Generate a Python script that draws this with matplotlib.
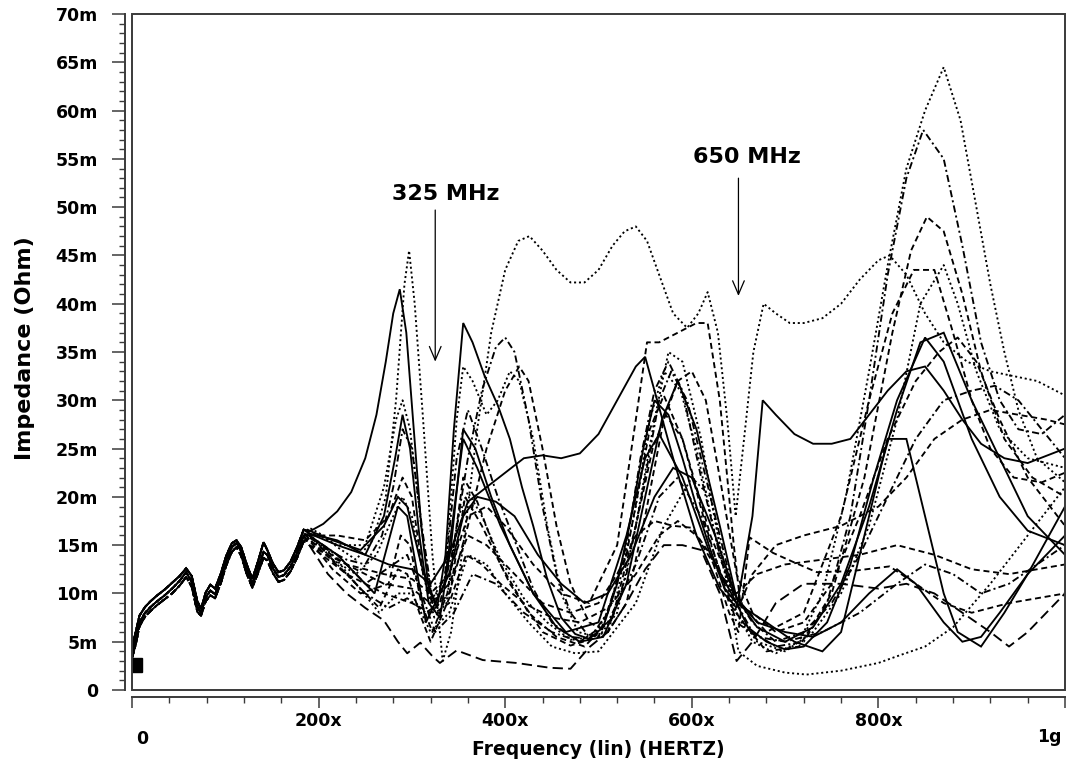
import matplotlib
matplotlib.use("Agg")
import matplotlib.pyplot as plt
from matplotlib.patches import Rectangle
from matplotlib.ticker import MultipleLocator

plt.rcParams['font.family'] = ['DejaVu Sans']

# ---------------------------------------------------------------------------
# Data: frequency in MHz, impedance in mOhm
# ---------------------------------------------------------------------------
# low-frequency section (common to all corners, three slightly different runs)
lf_freq = [0, 4, 8, 14, 20, 27, 35, 43, 51, 58, 64, 70, 74, 79, 84, 89, 95, 101,
           107, 112, 117, 123, 129, 135, 141, 145, 151, 157, 163, 170, 177, 184]
lf_a = [3.8, 5.2, 7.0, 8.0, 8.6, 9.2, 9.8, 10.5, 11.3, 12.2, 11.2, 8.6, 8.0, 9.6, 10.3,
        9.9, 11.5, 13.4, 14.8, 15.2, 14.4, 12.5, 11.0, 12.6, 14.3, 14.0, 12.6, 11.7, 11.9,
        12.8, 14.2, 16.0]
lf_b = [4.4, 6.0, 7.7, 8.6, 9.2, 9.8, 10.4, 11.1, 11.8, 12.6, 11.8, 9.2, 8.4, 10.1, 10.9,
        10.5, 12.0, 13.9, 15.2, 15.5, 14.8, 13.0, 11.5, 13.3, 15.3, 14.5, 13.1, 12.2, 12.4,
        13.3, 14.8, 16.6]
lf_c = [3.3, 4.7, 6.6, 7.6, 8.2, 8.8, 9.4, 10.0, 10.8, 11.7, 10.7, 8.1, 7.7, 9.2, 9.8,
        9.5, 11.0, 12.9, 14.3, 14.8, 13.9, 12.0, 10.6, 12.1, 13.7, 13.4, 12.1, 11.2, 11.4,
        12.3, 13.7, 15.4]

# high-frequency section of each corner
c01_f = [190, 205, 220, 240, 258, 272, 283, 292, 297, 303, 312, 322, 333, 342, 355, 370, 385,
         400, 414, 426, 440, 455, 470, 485, 500, 515, 528, 540, 552, 565, 580, 595, 607, 617,
         628, 638, 647, 656, 666, 677, 690, 705, 720, 740, 760, 780, 800, 812, 830, 850, 870,
         895, 920, 945, 970, 1000]
c01_z = [16.8, 16.0, 14.8, 13.5, 15.5, 20, 30, 42, 45.5, 40, 28, 14, 3, 6, 15, 27, 37, 43.5,
         46.5, 47, 45.5, 43.5, 42.2, 42.2, 43.5, 46, 47.5, 48, 46.5, 43, 39, 37.5, 39, 41.2,
         37, 28, 18, 26, 35, 40, 39, 38, 38, 38.5, 40, 42.5, 44.5, 45, 43, 39, 36, 34, 33,
         32.5, 32, 30.5]

c02_f = [190, 205, 220, 235, 250, 262, 272, 280, 287, 294, 302, 310, 318, 327, 336, 345, 355,
         365, 378, 392, 405, 418, 430, 445, 460, 475, 490, 505, 520, 535, 548, 560, 575, 590,
         605, 620, 635, 648, 660, 680, 700, 720, 745, 770, 795, 820, 850, 870, 900, 930, 960,
         1000]
c02_z = [16.4, 17.2, 18.5, 20.5, 24, 28.5, 34, 39, 41.5, 37, 27, 17, 10.5, 8.5, 14, 27, 38,
         36, 32.5, 29.5, 26, 21, 17, 11.5, 7.5, 5.8, 5.3, 6.5, 11, 18, 25, 30, 28.5, 24, 19,
         14.5, 10.5, 9, 6.5, 5, 4.2, 4.5, 7, 13, 22, 30, 36.5, 34, 26, 20, 16.5, 15]

c03_f = [190, 210, 230, 250, 268, 280, 290, 300, 312, 322, 335, 348, 360, 375, 392, 410, 430,
         450, 470, 490, 510, 530, 545, 560, 575, 590, 610, 630, 648, 665, 690, 720, 745, 770,
         790, 810, 830, 848, 870, 890, 910, 930, 950, 975, 1000]
c03_z = [15.8, 14.5, 13.5, 13, 16, 21, 27, 25, 16, 9.5, 11.5, 24, 29, 25, 20, 15.5, 10.5, 7,
         5.5, 5.3, 8, 15, 24, 31, 34, 31, 22, 14, 9, 6, 4.5, 5, 9, 18, 30, 43, 53, 58, 55, 46,
         36, 30, 27, 26.5, 28.5]

c04_f = [190, 215, 240, 262, 280, 290, 300, 312, 324, 337, 350, 360, 375, 395, 420, 445, 470,
         495, 520, 540, 555, 570, 588, 605, 625, 645, 665, 690, 715, 740, 765, 790, 810, 830,
         850, 870, 888, 905, 920, 935, 950, 970, 1000]
c04_z = [16.2, 13.5, 12, 14, 18, 20, 18, 12, 7.5, 9, 18, 20.5, 18, 13.5, 9.5, 7, 5.2, 5.5, 10,
         19, 28, 33, 31, 25, 16, 8.5, 5, 3.8, 5, 10, 20, 33, 44, 54, 60, 64.5, 59, 50, 42, 35,
         29, 24, 21.5]

c05_f = [190, 215, 245, 275, 288, 298, 310, 322, 338, 355, 370, 395, 425, 455, 485, 515, 540,
         558, 572, 590, 615, 640, 655, 680, 715, 750, 785, 815, 835, 852, 870, 890, 910, 935,
         965, 1000]
c05_z = [15.5, 12.5, 10, 11, 16, 15, 9, 6, 10, 22, 19.5, 13, 8, 5.5, 4.5, 7.5, 17, 25, 28.5,
         26, 17, 9, 7, 4, 4.5, 10, 22, 37, 45.5, 49, 47.5, 41, 33, 26, 22, 20]

c06_f = [190, 230, 265, 285, 295, 308, 320, 340, 357, 375, 405, 440, 470, 500, 530, 555, 570,
         590, 620, 648, 680, 720, 760, 790, 815, 838, 860, 880, 900, 920, 945, 975, 1000]
c06_z = [15.6, 12, 8.5, 12.5, 12, 8, 5, 9.5, 20, 17, 11, 6, 4.6, 5.5, 14, 27, 30.5, 26, 16,
         9.5, 6, 8, 18, 30, 39, 43.5, 43.5, 37, 30, 25, 22, 21.5, 22.5]

c07_f = [190, 220, 260, 285, 295, 315, 335, 355, 370, 395, 430, 465, 500, 530, 550, 565, 590,
         620, 648, 680, 710, 740, 760, 790, 810, 830, 850, 870, 885, 910, 935, 960, 1000]
c07_z = [16, 14, 10, 19, 18, 7, 11, 26, 23, 17, 10, 6, 7, 16, 24, 26.5, 22, 14, 9, 7, 5, 4, 6,
         18, 26, 26, 18, 10, 6, 4.5, 8, 12, 19]

c08_f = [190, 220, 250, 275, 300, 320, 340, 360, 380, 400, 420, 440, 460, 480, 500, 520, 540,
         550, 560, 580, 605, 630, 648, 665, 676, 690, 710, 730, 750, 770, 790, 810, 830, 850,
         870, 890, 910, 935, 960, 1000]
c08_z = [16.2, 15.5, 14, 13, 12.5, 11, 14, 19.5, 21, 22.5, 24, 24.3, 24, 24.5, 26.5, 30, 33.5,
         34.5, 31, 24, 16, 10.5, 8.5, 18, 30, 28.5, 26.5, 25.5, 25.5, 26, 28.5, 31, 33, 33.5,
         31, 28, 25.5, 24, 23.5, 25]

c09_f = [190, 220, 250, 275, 295, 315, 330, 345, 360, 375, 390, 400, 410, 425, 440, 455, 470,
         490, 510, 530, 550, 565, 578, 595, 620, 645, 665, 690, 720, 750, 780, 810, 840, 870,
         900, 925, 950, 975, 1000]
c09_z = [16, 13, 10, 8.5, 9.5, 8, 9, 15, 24, 31, 35.5, 36.5, 35, 28, 19, 12, 8, 5.5, 6, 12,
         22, 30, 33, 30, 20, 10, 7, 5, 6, 9, 14, 20, 26, 30, 31, 31.5, 30, 27, 24]

c10_f = [190, 230, 270, 300, 320, 340, 360, 380, 400, 415, 425, 440, 455, 470, 490, 510, 530,
         550, 570, 585, 600, 615, 630, 648, 665, 690, 720, 750, 780, 810, 840, 865, 885, 905,
         930, 960, 1000]
c10_z = [15, 12, 10, 9, 8, 10, 17, 25, 31, 33.5, 32, 25, 17, 11, 7, 6, 9, 18, 28, 32, 33, 30,
         22, 12, 8, 6, 7, 11, 18, 26, 32, 35, 36.5, 34, 28, 22, 17]

c11_f = [190, 220, 250, 270, 283, 290, 298, 310, 322, 335, 348, 355, 365, 380, 392, 405, 415,
         430, 445, 460, 478, 500, 520, 540, 560, 575, 590, 610, 630, 648, 670, 700, 730, 760,
         790, 820, 845, 870, 885, 905, 930, 960, 1000]
c11_z = [16.5, 15, 15, 21, 28, 30, 27, 17, 9, 11, 28, 33.5, 32, 28.5, 30, 33, 32, 26, 17, 10,
         6, 5.5, 8, 17, 28, 35, 34, 26, 15, 8, 5, 4, 6, 10, 17, 28, 40, 44, 40, 33, 27, 24, 23]

c12_f = [190, 210, 230, 250, 270, 285, 295, 309, 322, 330, 348, 376, 412, 448, 470, 491, 510,
         530, 550, 570, 590, 610, 630, 648, 665, 690, 720, 760, 800, 830, 860, 890, 920, 940,
         960, 1000]
c12_z = [15, 12, 10, 8.5, 7.2, 5, 3.8, 4.9, 3.5, 2.8, 4.1, 3.1, 2.8, 2.3, 2.2, 4.5, 6, 9, 12.5,
         15, 15, 14.5, 10, 3, 5, 9, 11, 11, 10.5, 11, 10, 8, 6, 4.5, 6, 10]

c13_f = [190, 215, 240, 265, 285, 300, 320, 340, 360, 380, 400, 425, 450, 475, 500, 540, 570,
         600, 620, 640, 650, 670, 700, 723, 760, 800, 823, 850, 880, 920, 960, 1000]
c13_z = [16, 14, 11, 8, 10, 10, 6, 8, 14, 13, 10, 7, 4.5, 3.8, 4, 9, 17, 22, 20, 10, 4, 2.5,
         1.8, 1.6, 2, 2.8, 3.6, 4.5, 6.5, 11, 16, 21]

c14_f = [190, 230, 270, 300, 320, 340, 360, 380, 410, 440, 470, 500, 520, 540, 560, 580, 600,
         620, 640, 650, 662, 687, 710, 734, 770, 812, 840, 870, 900, 940, 1000]
c14_z = [15.5, 13, 11, 10.5, 9, 11, 16, 15, 12, 9, 8, 9, 12, 16, 17.5, 17, 16.8, 14, 8, 6,
         15.8, 14.2, 13.2, 12.2, 12.3, 12.8, 11, 9, 8, 9, 10]

c15_f = [190, 220, 250, 280, 295, 310, 325, 345, 365, 390, 420, 450, 480, 510, 540, 565, 585,
         610, 635, 648, 670, 700, 740, 780, 820, 850, 880, 910, 940, 970, 1000]
c15_z = [16, 14, 11, 13, 14, 10, 6, 8, 12, 11, 8, 6, 5, 7, 13, 20, 22, 18, 11, 7, 5.5, 5, 6, 8,
         11, 13, 12, 10, 11, 13, 15]

c16_f = [190, 230, 270, 300, 320, 340, 360, 380, 400, 430, 460, 490, 520, 540, 552, 565, 585,
         605, 617, 630, 645, 652, 665, 690, 720, 760, 800, 830, 860, 890, 920, 950, 980, 1000]
c16_z = [15, 13, 12, 11.5, 10, 12, 18, 19, 17, 13, 10, 9, 15, 28, 36, 36, 37, 38, 38, 30, 15,
         9, 12, 15, 16, 17, 19, 22, 26, 28, 29, 28.5, 28, 27.5]

c17_f = [190, 215, 245, 270, 285, 295, 310, 325, 340, 355, 370, 390, 410, 435, 460, 485, 510,
         535, 560, 580, 600, 625, 648, 670, 700, 730, 760, 790, 820, 840, 870, 890, 910, 930,
         960, 1000]
c17_z = [16.5, 15.5, 14.5, 17, 20, 19, 13, 9, 12, 18, 20, 19.5, 18, 14, 11, 9, 10, 14, 20, 23,
         22, 16, 9.5, 7, 6, 5.5, 7, 10, 12.5, 11, 7, 5, 5.5, 8, 12, 16]

c18_f = [190, 220, 250, 275, 290, 300, 312, 325, 340, 358, 375, 395, 420, 450, 480, 510, 540,
         565, 585, 605, 630, 648, 670, 700, 740, 780, 820, 860, 900, 940, 1000]
c18_z = [16, 16, 15.5, 18, 22, 20, 12, 8, 9, 14, 13, 11, 9, 7.5, 7, 8.5, 12, 16, 17.5, 16, 12,
         10, 12, 13, 13.5, 14, 15, 14, 12.5, 12, 13]

c19_f = [190, 220, 250, 270, 282, 290, 298, 308, 318, 330, 342, 355, 368, 385, 405, 430, 455,
         480, 505, 530, 550, 568, 585, 605, 630, 648, 670, 700, 730, 760, 790, 820, 845, 870,
         900, 930, 960, 1000]
c19_z = [16.2, 15, 14, 18, 24, 28.5, 25, 16, 9, 7.5, 15, 27, 25, 20, 15, 10, 6.5, 5, 5.5, 11,
         20, 28, 32, 27, 17, 9.5, 6.5, 5, 6.5, 11, 19, 29, 36, 37, 30, 24, 18, 14]

# start-point marker of the first trace
marker_freq = [3]
marker_z = [2.6]

# axis tick labels
x_ticks = [0, 200, 400, 600, 800, 1000]
x_tick_labels = ['0', '200x', '400x', '600x', '800x', '1g']
y_ticks = list(range(0, 75, 5))
y_tick_labels = ['0'] + ['%dm' % v for v in y_ticks[1:]]

# ---------------------------------------------------------------------------
# Line styles (dash patterns in points)
# ---------------------------------------------------------------------------
DOT = (0, (1.1, 1.5))
DASH = (0, (3.2, 2.0))
LDASH = (0, (5.5, 2.8))
DDOT = (0, (3.8, 1.7, 1.1, 1.7))
SOLID = '-'

traces = [
    (lf_a, c01_f, c01_z, DOT),
    (lf_b, c02_f, c02_z, SOLID),
    (lf_c, c03_f, c03_z, DDOT),
    (lf_a, c04_f, c04_z, DOT),
    (lf_b, c05_f, c05_z, DASH),
    (lf_c, c06_f, c06_z, DASH),
    (lf_a, c07_f, c07_z, SOLID),
    (lf_b, c08_f, c08_z, SOLID),
    (lf_c, c09_f, c09_z, DDOT),
    (lf_a, c10_f, c10_z, DASH),
    (lf_b, c11_f, c11_z, DOT),
    (lf_c, c12_f, c12_z, LDASH),
    (lf_a, c13_f, c13_z, DOT),
    (lf_b, c14_f, c14_z, DASH),
    (lf_c, c15_f, c15_z, DDOT),
    (lf_a, c16_f, c16_z, DASH),
    (lf_b, c17_f, c17_z, SOLID),
    (lf_c, c18_f, c18_z, DASH),
    (lf_a, c19_f, c19_z, SOLID),
]

# ---------------------------------------------------------------------------
fig = plt.figure(figsize=(10.68, 7.63), dpi=100)
ax = fig.add_axes([132 / 1068, 1 - 690 / 763, (1065 - 132) / 1068, (690 - 14) / 763])

for lf, hf_f, hf_z, ls in traces:
    ax.plot(lf_freq + hf_f, lf + hf_z, color='black', lw=1.35, linestyle=ls,
            solid_joinstyle='miter', dash_capstyle='butt')

ax.plot(marker_freq, marker_z, 's', color='black', ms=10, clip_on=True)

ax.set_xlim(0, 1000)
ax.set_ylim(0, 70)

# frame around the plotting area, with separate offset axis bars
frame_color = '#3a3a3a'
ax.add_patch(Rectangle((0, 0), 1, 1, transform=ax.transAxes, fill=False,
                       lw=1.4, edgecolor=frame_color, clip_on=False, zorder=5))
for side in ('top', 'right'):
    ax.spines[side].set_visible(False)
ax.spines['left'].set_position(('outward', 5))
ax.spines['bottom'].set_position(('outward', 5))
ax.spines['left'].set_color(frame_color)
ax.spines['bottom'].set_color(frame_color)
ax.spines['left'].set_linewidth(1.4)
ax.spines['bottom'].set_linewidth(1.4)

ax.set_yticks(y_ticks)
ax.set_yticklabels(y_tick_labels)
ax.yaxis.set_minor_locator(MultipleLocator(1))
ax.set_xticks(x_ticks)
ax.set_xticklabels(['', '200x', '400x', '600x', '800x', ''])
ax.xaxis.set_minor_locator(MultipleLocator(40))

ax.tick_params(axis='y', which='major', direction='out', length=9.5, width=1.1,
               color=frame_color, pad=10, labelsize=12.5)
ax.tick_params(axis='y', which='minor', direction='out', length=4.5, width=1.0,
               color=frame_color)
ax.tick_params(axis='x', which='major', direction='out', length=8, width=1.1,
               color=frame_color, pad=3, labelsize=12.5)
ax.tick_params(axis='x', which='minor', direction='out', length=4, width=1.0,
               color=frame_color)
for lab in ax.get_yticklabels() + ax.get_xticklabels():
    lab.set_fontweight('bold')

# end labels of the frequency axis sit lower and inside the range
ax.text(x_ticks[0] + 4, -0.072, x_tick_labels[0], transform=ax.get_xaxis_transform(),
        ha='left', va='center', fontsize=12.5, fontweight='bold')
ax.text(x_ticks[-1] - 4, -0.070, x_tick_labels[-1], transform=ax.get_xaxis_transform(),
        ha='right', va='center', fontsize=12.5, fontweight='bold')

ax.set_xlabel('Frequency (lin) (HERTZ)', fontsize=13.5, fontweight='bold', labelpad=7)
fig.text(25 / 1068, 1 - 348 / 763, 'Impedance (Ohm)', rotation=90, ha='center',
         va='center', fontsize=16, fontweight='bold')

# resonance annotations
arrow = dict(arrowstyle='->,head_length=0.7,head_width=0.3', lw=0.9, color='black',
             mutation_scale=14, shrinkA=0, shrinkB=0)
ax.annotate('', xy=(325, 34), xytext=(325, 49.7), arrowprops=arrow)
ax.text(336, 51.4, '325 MHz', ha='center', va='center', fontsize=16, fontweight='bold')
ax.annotate('', xy=(650, 40.8), xytext=(650, 53.0), arrowprops=arrow)
ax.text(659, 55.2, '650 MHz', ha='center', va='center', fontsize=16, fontweight='bold')

fig.savefig('out.png', dpi=100, facecolor='white')
